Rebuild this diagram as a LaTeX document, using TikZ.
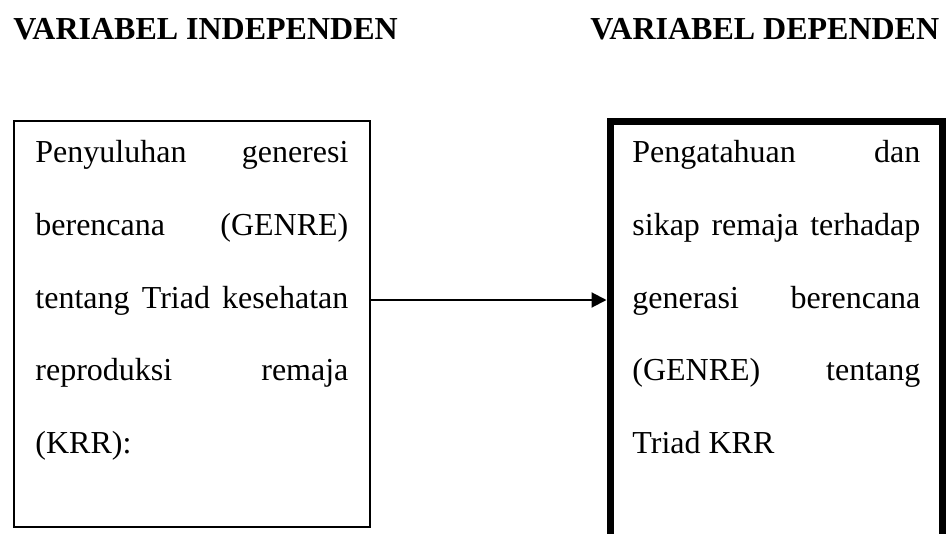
\documentclass[tikz,border=0pt]{standalone}
\usepackage{fontspec}
\setmainfont{Liberation Serif}
\usetikzlibrary{arrows.meta, positioning}

\begin{document}
\begin{tikzpicture}[x=0.5pt, y=-0.5pt,
	judul/.style={anchor=base west, inner sep=0pt, font=\fontsize{16}{19}\selectfont\bfseries},
	kotak/.style={rectangle, draw, line width=1pt, minimum width=178pt, minimum height=203pt},
	kotaktebal/.style={kotak, line width=3.5pt, minimum width=166.25pt, minimum height=214.25pt},
	isi/.style={anchor=base west, inner sep=0pt, align=justify, font=\fontsize{16}{36.25}\selectfont},
	panah/.style={-{Triangle[length=7.5pt, width=7.5pt]}, line width=1pt}]
	\useasboundingbox (0,0) rectangle (946,534);
	\node[judul] (jIndep) at (13,40) {VARIABEL INDEPENDEN};
	\node[judul] (jDep) at (590,40) {VARIABEL DEPENDEN};
	\node[kotak] (indep) at (192,324) {};
	\node[kotaktebal] (dep) at (776.25,335.75) {};
	\node[isi, text width=156.5pt] (tIndep) at (35,163) {Penyuluhan\hfill generesi\\
		berencana\hfill (GENRE)\\
		tentang\hfill Triad\hfill kesehatan\\
		reproduksi\hfill remaja\\
		(KRR):};
	\node[isi, text width=144pt] (tDep) at (632,163) {Pengatahuan\hfill dan\\
		sikap\hfill remaja\hfill terhadap\\
		generasi\hfill berencana\\
		(GENRE)\hfill tentang\\
		Triad KRR};
	\coordinate (garis) at (0,300);
	\draw[panah] (indep.east |- garis) -- (dep.west |- garis);
\end{tikzpicture}
\end{document}
